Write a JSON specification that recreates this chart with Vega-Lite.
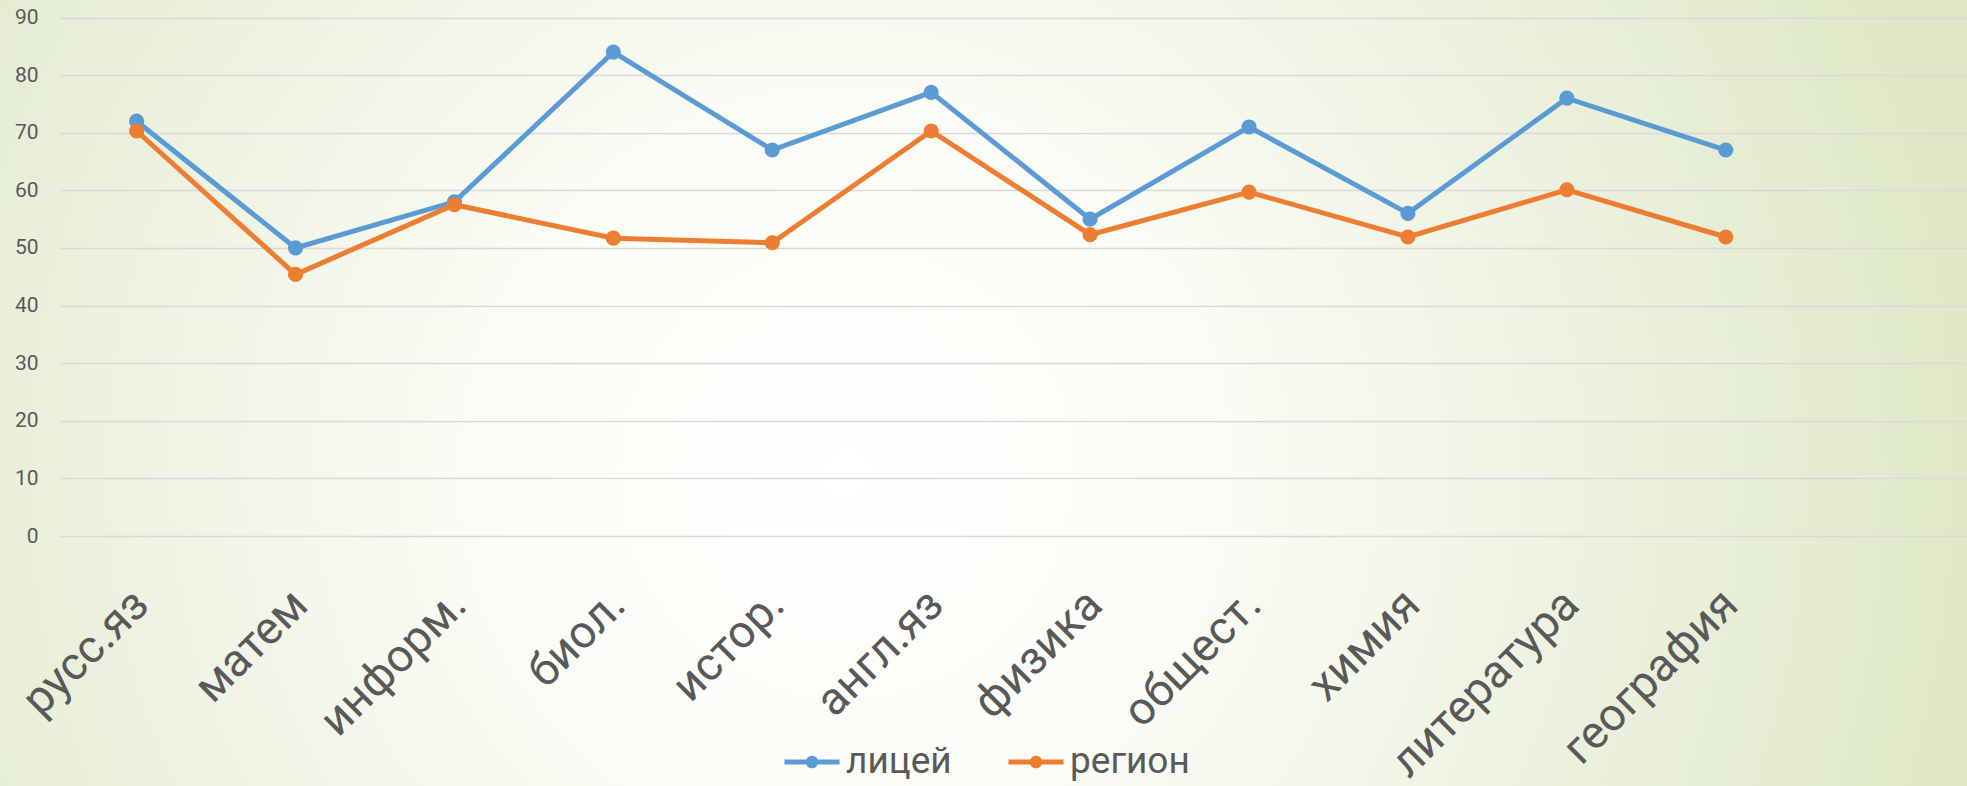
{
  "$schema": "https://vega.github.io/schema/vega-lite/v6.json",
  "width": 1967,
  "height": 786,
  "autosize": {"type": "none"},
  "padding": 0,
  "background": "#eef2e2",
  "view": {
    "stroke": null,
    "fill": {
      "gradient": "radial",
      "x1": 0.43, "y1": 0.54, "r1": 0,
      "x2": 0.43, "y2": 0.54, "r2": 0.6,
      "stops": [
        {"offset": 0, "color": "#ffffff"},
        {"offset": 0.3, "color": "#fbfcf6"},
        {"offset": 0.72, "color": "#e9efda"},
        {"offset": 0.95, "color": "#e0e8c8"},
        {"offset": 1, "color": "#dee6c4"}
      ]
    }
  },
  "config": {"font": "Roboto"},
  "data": {
    "values": [
      {"subject": "русс.яз", "series": "лицей", "value": 72},
      {"subject": "матем", "series": "лицей", "value": 50},
      {"subject": "информ.", "series": "лицей", "value": 58},
      {"subject": "биол.", "series": "лицей", "value": 84},
      {"subject": "истор.", "series": "лицей", "value": 67},
      {"subject": "англ.яз", "series": "лицей", "value": 77},
      {"subject": "физика", "series": "лицей", "value": 55},
      {"subject": "общест.", "series": "лицей", "value": 71},
      {"subject": "химия", "series": "лицей", "value": 56},
      {"subject": "литература", "series": "лицей", "value": 76},
      {"subject": "география", "series": "лицей", "value": 67},
      {"subject": "русс.яз", "series": "регион", "value": 70.3},
      {"subject": "матем", "series": "регион", "value": 45.4},
      {"subject": "информ.", "series": "регион", "value": 57.5},
      {"subject": "биол.", "series": "регион", "value": 51.7},
      {"subject": "истор.", "series": "регион", "value": 50.9},
      {"subject": "англ.яз", "series": "регион", "value": 70.3},
      {"subject": "физика", "series": "регион", "value": 52.3},
      {"subject": "общест.", "series": "регион", "value": 59.7},
      {"subject": "химия", "series": "регион", "value": 51.9},
      {"subject": "литература", "series": "регион", "value": 60.1},
      {"subject": "география", "series": "регион", "value": 51.9}
    ]
  },
  "mark": {"type": "line", "strokeWidth": 5, "point": {"filled": true, "size": 230, "opacity": 1}},
  "encoding": {
    "x": {
      "field": "subject",
      "type": "nominal",
      "sort": null,
      "scale": {"type": "point", "range": [60, 1967], "padding": 1.0272, "align": 0.241, "round": false},
      "axis": {
        "title": null,
        "offset": -250,
        "domain": false,
        "ticks": false,
        "grid": false,
        "labelAngle": -45,
        "labelAlign": "right",
        "labelBaseline": "alphabetic",
        "labelPadding": 71,
        "labelOffset": 14,
        "labelFontSize": 46,
        "labelFont": "Roboto",
        "labelColor": "#595959",
        "labelOverlap": false,
        "labelBound": false,
        "labelFlush": false,
        "labelLimit": 0
      }
    },
    "y": {
      "field": "value",
      "type": "quantitative",
      "scale": {"domain": [0, 90], "range": [536, 17.5], "nice": false, "zero": true},
      "axis": {
        "title": null,
        "offset": -60,
        "values": [0, 10, 20, 30, 40, 50, 60, 70, 80, 90],
        "domain": false,
        "ticks": false,
        "grid": true,
        "gridColor": "#d9d9d9",
        "gridWidth": 1.5,
        "labelPadding": 22,
        "labelFontSize": 21,
        "labelFont": "Roboto",
        "labelColor": "#595959"
      }
    },
    "color": {
      "field": "series",
      "type": "nominal",
      "scale": {"domain": ["лицей", "регион"], "range": ["#5B9BD5", "#ED7D31"]},
      "legend": {
        "title": null,
        "orient": "none",
        "legendX": 782,
        "legendY": 732,
        "direction": "horizontal",
        "padding": 0,
        "symbolType": "M-1,0L1,0M-0.14,0A0.14,0.14,0,1,0,0.14,0A0.14,0.14,0,1,0,-0.14,0M-0.05,0A0.05,0.05,0,1,0,0.05,0A0.05,0.05,0,1,0,-0.05,0",
        "symbolSize": 3025,
        "symbolStrokeWidth": 5,
        "labelFontSize": 37,
        "labelFont": "Roboto",
        "labelColor": "#595959",
        "labelOffset": 4,
        "columnPadding": 46,
        "labelLimit": 0
      }
    }
  }
}
